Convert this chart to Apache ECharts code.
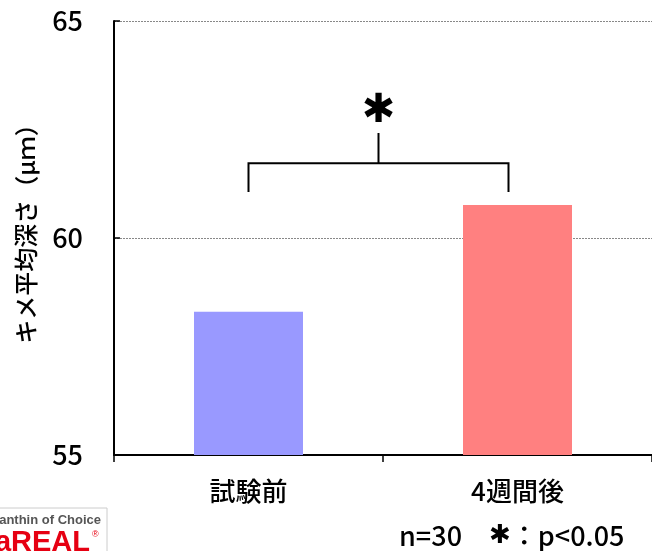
<!DOCTYPE html>
<html>
<head>
<meta charset="utf-8">
<script src="https://cdn.jsdelivr.net/npm/echarts@6/dist/echarts.min.js"></script>
<style>
html,body{margin:0;padding:0;background:#fff;}
#main{width:652px;height:551px;}
</style>
</head>
<body>
<div id="main"></div>
<script>
// キメ平均深さ 試験前 / 4週間後
var categories = ['試験前', '4週間後'];
var values = [58.3, 60.76];
var barColors = ['#9999ff', '#ff8080'];
var yTicks = [55, 60, 65];
// 有意差ブラケット（データ値）
var bracketLegY = 61.06;
var bracketBarY = 61.72;
var bracketTopY = 62.42;
var starY = 62.92;

var FONT = '"Noto Sans CJK JP", "Noto Sans", sans-serif';

var myChart = echarts.init(document.getElementById('main'));
var option = {
	animation: false,
	backgroundColor: '#fff',
	grid: {
		left: 114,
		right: 0,
		top: 21,
		bottom: 96,
		outerBoundsMode: 'none'
	},
	xAxis: {
		type: 'category',
		data: categories,
		axisLine: {
			lineStyle: { color: '#000', width: 2 }
		},
		axisTick: {
			show: true,
			length: 7,
			lineStyle: { color: '#000', width: 1.5 }
		},
		axisLabel: {
			color: '#000',
			fontSize: 26,
			fontWeight: 500,
			fontFamily: FONT,
			margin: 23
		}
	},
	yAxis: {
		type: 'value',
		min: yTicks[0],
		max: yTicks[yTicks.length - 1],
		interval: 5,
		name: 'キメ平均深さ（μｍ）',
		nameLocation: 'middle',
		nameRotate: 90,
		nameGap: 76,
		nameTextStyle: {
			color: '#000',
			fontSize: 24,
			fontWeight: 500,
			fontFamily: FONT,
			padding: [0, 0, 0, 20]
		},
		axisLine: {
			show: true,
			lineStyle: { color: '#000', width: 2 }
		},
		axisTick: {
			show: true,
			inside: true,
			length: 6,
			lineStyle: { color: '#000', width: 1.5 }
		},
		axisLabel: {
			color: '#000',
			fontSize: 27,
			fontWeight: 500,
			fontFamily: FONT,
			margin: 31
		},
		splitLine: {
			show: true,
			lineStyle: { color: '#888', width: 1, type: [2, 1] }
		}
	},
	series: [{
		type: 'bar',
		barWidth: 109,
		data: values.map(function(v, i) {
			return { value: v, itemStyle: { color: barColors[i] } };
		})
	}]
};
myChart.setOption(option);

// ブラケットと注記
var p0 = myChart.convertToPixel({ seriesIndex: 0 }, [0, bracketLegY]);
var p1 = myChart.convertToPixel({ seriesIndex: 0 }, [1, bracketLegY]);
var yBar = myChart.convertToPixel({ yAxisIndex: 0 }, bracketBarY);
var yTop = myChart.convertToPixel({ yAxisIndex: 0 }, bracketTopY);
var yStar = myChart.convertToPixel({ yAxisIndex: 0 }, starY);
var xL = p0[0];
var xR = p1[0] - 9;
var xMid = (xL + xR) / 2;
var lineStyle = { stroke: '#000', lineWidth: 2, fill: null };

myChart.setOption({
	graphic: [{
		type: 'polyline',
		shape: { points: [[xL, p0[1]], [xL, yBar], [xR, yBar], [xR, p1[1]]] },
		style: lineStyle
	}, {
		type: 'line',
		shape: { x1: xMid, y1: yBar, x2: xMid, y2: yTop },
		style: lineStyle
	}, {
		type: 'text',
		x: xMid,
		y: yStar,
		style: {
			text: '✱',
			fontSize: 40,
			fontFamily: '"DejaVu Sans", sans-serif',
			fill: '#000',
			align: 'center',
			verticalAlign: 'middle'
		}
	}, {
		type: 'text',
		x: 399,
		y: 536,
		style: {
			text: 'n=30　{s|✱}：p<0.05',
			fontSize: 27,
			fontWeight: 500,
			fontFamily: FONT,
			fill: '#000',
			align: 'left',
			verticalAlign: 'middle',
			rich: {
				s: {
					fontSize: 26,
					fontFamily: '"DejaVu Sans", sans-serif',
					fill: '#000'
				}
			}
		}
	}, {
		// 左下ロゴ（切れている）
		type: 'rect',
		shape: { x: -20, y: 508, width: 127, height: 60 },
		style: { fill: '#fff', stroke: '#ccc', lineWidth: 1 }
	}, {
		type: 'text',
		x: 101,
		y: 520,
		style: {
			text: 'Astaxanthin of Choice',
			fontSize: 13,
			fontWeight: 'bold',
			fontFamily: '"Liberation Sans Narrow", "Liberation Sans", sans-serif',
			fill: '#555',
			align: 'right',
			verticalAlign: 'middle'
		}
	}, {
		type: 'text',
		x: 90,
		y: 543,
		style: {
			text: 'AstaREAL',
			fontSize: 29,
			fontWeight: 'bold',
			fontFamily: '"Liberation Sans", sans-serif',
			fill: '#e60012',
			align: 'right',
			verticalAlign: 'middle'
		}
	}, {
		type: 'text',
		x: 92,
		y: 535,
		style: {
			text: '®',
			fontSize: 9,
			fontFamily: '"Liberation Sans", sans-serif',
			fill: '#e60012',
			align: 'left',
			verticalAlign: 'middle'
		}
	}]
});
</script>
</body>
</html>
